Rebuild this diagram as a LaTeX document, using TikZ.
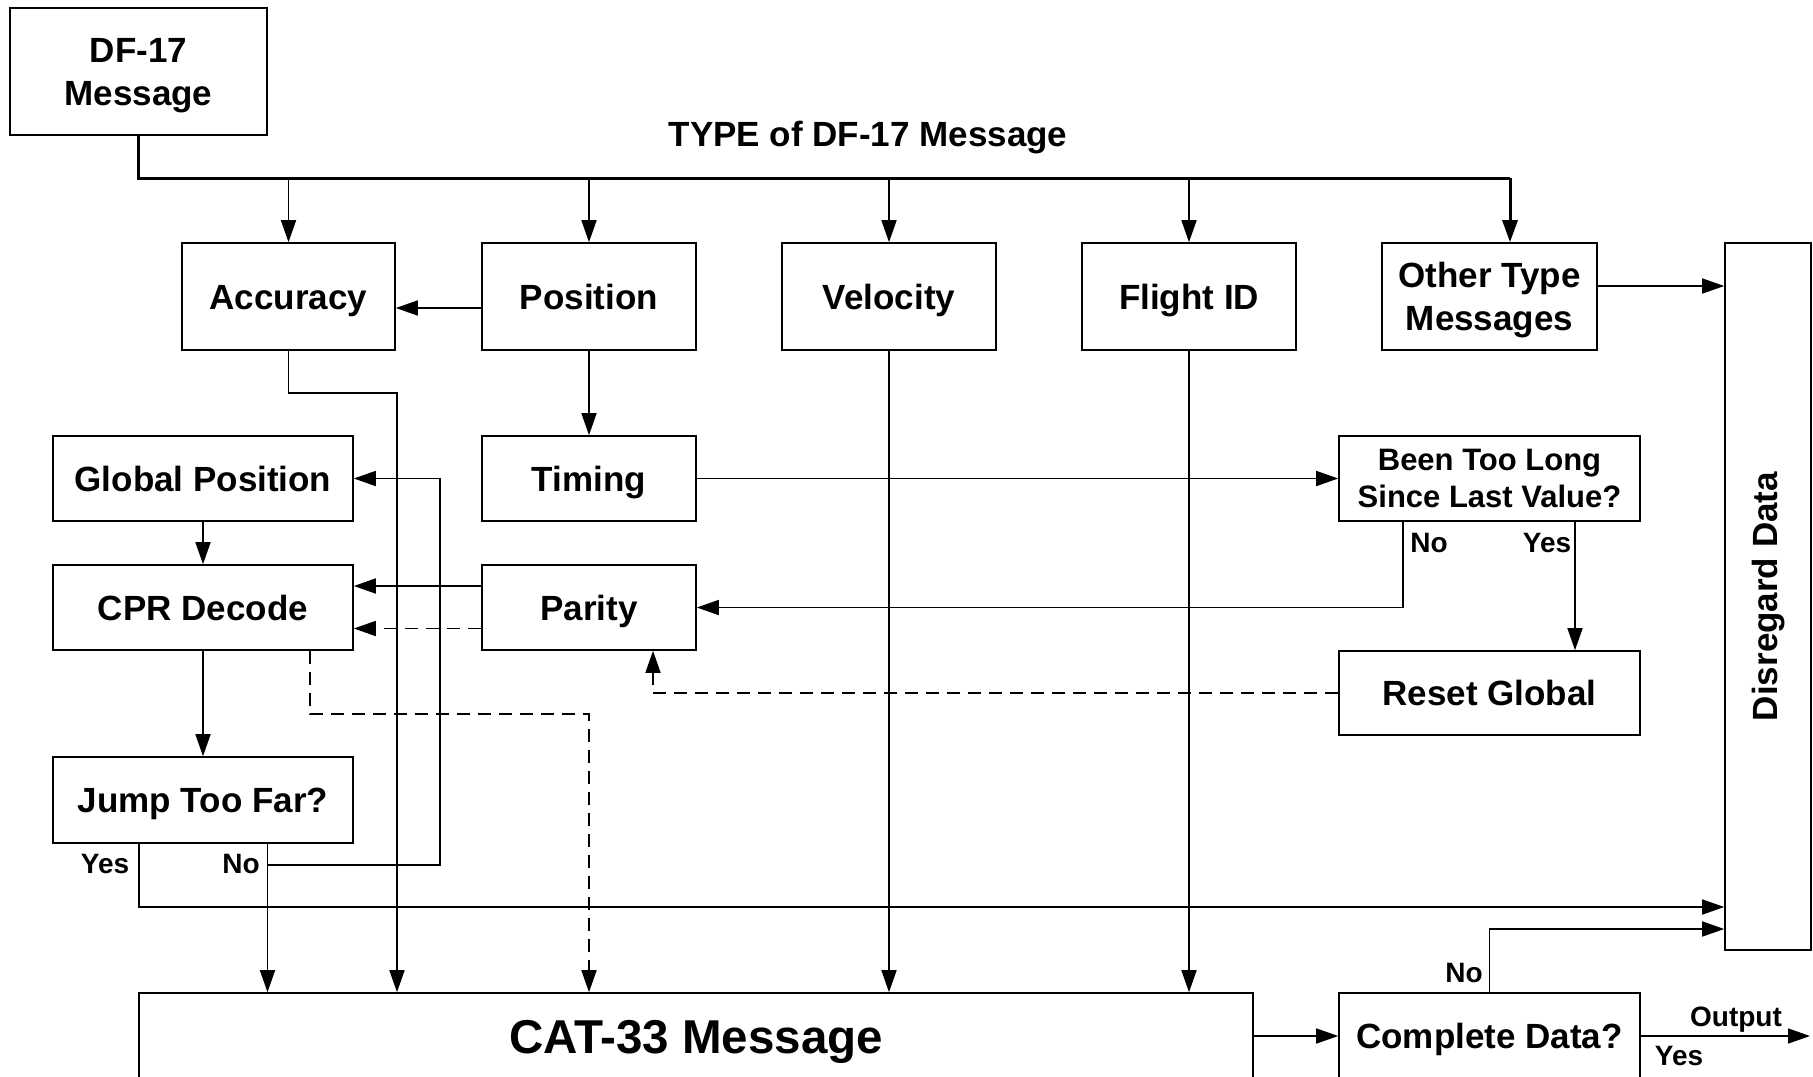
\documentclass[tikz,border=0pt]{standalone}
\usepackage{fontspec}
\setmainfont{Liberation Sans}
\usepackage{graphicx}
\usetikzlibrary{arrows.meta}
\begin{document}
\begin{tikzpicture}[x=0.5pt,y=-0.5pt,
  line width=0.8pt,
  boxfont/.style={font=\fontsize{17.5}{21.5}\selectfont\bfseries},
  box/.style={draw, line width=0.8pt, inner sep=0pt, boxfont, align=center},
  onel/.style={text height=12.6pt, text depth=0pt},
  twol/.style={text height=34.3pt, text depth=0pt},
  lbl/.style={inner sep=0pt, text height=10.1pt, text depth=0pt, font=\fontsize{14}{16}\selectfont\bfseries},
  arr/.style={-{Triangle[length=11pt,width=7.5pt]}},
  dsh/.style={dash pattern=on 6.5pt off 4pt},
  bus/.style={line width=1.5pt}
]
\fill[white] (0,0) rectangle (1813,1076);
\useasboundingbox (0,0) rectangle (1813,1076);

% nodes
\node[box, twol, minimum width=128.5pt, minimum height=63.5pt] (df) at (138.5,71.5) {DF-17\\Message};
\node[inner sep=0pt, boxfont, onel] (type) at (868,134) {TYPE of DF-17 Message};

\node[box, onel, minimum width=106.5pt, minimum height=53.5pt] (acc) at (288.5,296.5) {Accuracy};
\node[box, onel, minimum width=107pt, minimum height=53.5pt] (pos) at (589,296.5) {Position};
\node[box, onel, minimum width=107pt, minimum height=53.5pt] (vel) at (889,296.5) {Velocity};
\node[box, onel, minimum width=107pt, minimum height=53.5pt] (fid) at (1189,296.5) {Flight ID};
\node[box, twol, minimum width=107.5pt, minimum height=53.5pt] (oth) at (1489.5,296.5) {Other Type\\Messages};

\node[box, minimum width=43pt, minimum height=353.5pt] (dis) at (1768,596.5) {\rotatebox{90}{Disregard Data}};

\node[box, onel, minimum width=150pt, minimum height=42.5pt] (glob) at (203,478.5) {Global Position};
\node[box, onel, minimum width=107pt, minimum height=42.5pt] (tim) at (589,478.5) {Timing};
\node[box, minimum width=150.5pt, minimum height=42.5pt, font=\fontsize{15.5}{18.5}\selectfont\bfseries] (been) at (1489.5,478.5) {Been Too Long\\Since Last Value?};

\node[box, onel, minimum width=150pt, minimum height=42.5pt] (cpr) at (203,607.5) {CPR Decode};
\node[box, onel, minimum width=107pt, minimum height=42.5pt] (par) at (589,607.5) {Parity};
\node[box, onel, minimum width=150.5pt, minimum height=42pt] (reset) at (1489.5,693) {Reset Global};

\node[box, onel, minimum width=150pt, minimum height=43pt] (jump) at (203,800) {Jump Too Far?};

\node[box, text height=17.1pt, text depth=0pt, minimum width=557pt, minimum height=43pt, font=\fontsize{23.75}{28}\selectfont\bfseries] (cat) at (696,1036) {CAT-33 Message};
\node[box, onel, minimum width=150.5pt, minimum height=43pt] (comp) at (1489.5,1036) {Complete Data?};

% labels
\node[lbl] (jyes) at (105,863) {Yes};
\node[lbl] (jno) at (241,863) {No};
\node[lbl] (bno) at (1429,542) {No};
\node[lbl] (byes) at (1547,542) {Yes};
\node[lbl] (cno) at (1464,972) {No};
\node[lbl] (outl) at (1736,1016) {Output};
\node[lbl] (cyes) at (1679,1055) {Yes};

% helper coordinates
\coordinate (busend) at (1510,178);
\coordinate (a1) at (397,393);
\coordinate (d1) at (589,714);
\coordinate (nb) at (440,865);
\coordinate (yesy) at (0,907);
\coordinate (compy) at (0,929);
\coordinate (othy) at (0,286);
\coordinate (outend) at (1810,1036);

% bus
\draw[bus] (df.south) |- (busend);
\draw[bus, arr] (busend) -- (busend |- oth.north);
\foreach \n in {acc,pos,vel,fid}
  \draw[arr] (\n.north |- busend) -- (\n.north);

% top row connections
\draw[arr] ([yshift=-5.75pt]pos.west) -- ([yshift=-5.75pt]acc.east);
\draw[arr] (oth.east |- othy) -- (dis.west |- othy);
\draw[arr] (acc.south) |- (a1) -- (a1 |- cat.north);
\draw[arr] (pos.south) -- (tim.north);
\draw[arr] (vel.south) -- (vel.south |- cat.north);
\draw[arr] (fid.south) -- (fid.south |- cat.north);

% timing / been
\draw[arr] (tim.east) -- (been.west);
\draw[arr] ([xshift=-43.25pt]been.south) |- (par.east);
\draw[arr] ([xshift=42.75pt]been.south) -- ([xshift=42.75pt]been.south |- reset.north);
\draw[arr, dsh] (reset.west) -| ([xshift=32pt]par.south);

% parity -> cpr
\draw[arr] ([yshift=10.75pt]par.west) -- ([yshift=10.75pt]cpr.east);
\draw[arr, dsh] ([yshift=-10.5pt]par.west) -- ([yshift=-10.5pt]cpr.east);

% left column
\draw[arr] (glob.south) -- (cpr.north);
\draw[arr] (cpr.south) -- (jump.north);
\draw[arr, dsh] ([xshift=53.5pt]cpr.south) |- (d1) -- (d1 |- cat.north);
\draw[arr] ([xshift=32.25pt]jump.south) -- ([xshift=32.25pt]jump.south |- cat.north);
\draw[arr] ([xshift=32.25pt]jump.south |- nb) -- (nb) |- (glob.east);
\draw[arr] ([xshift=-32pt]jump.south) |- (dis.west |- yesy);

% bottom
\draw[arr] (cat.east) -- (comp.west);
\draw[arr] (comp.north) |- (dis.west |- compy);
\draw[arr] (comp.east) -- (outend);
\end{tikzpicture}
\end{document}
